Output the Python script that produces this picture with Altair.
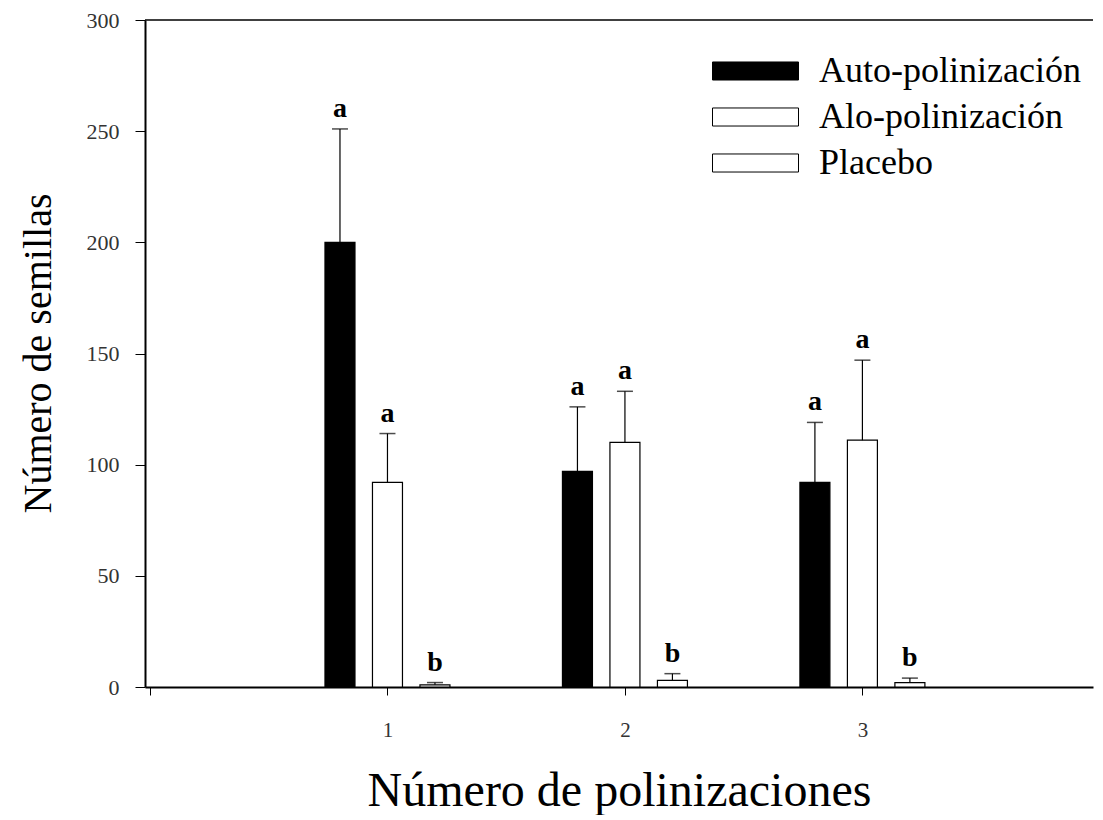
import altair as alt
import pandas as pd

# ---- data ----
groups = [1, 2, 3]
treatments = ["Auto-polinización", "Alo-polinización", "Placebo"]
auto_mean = [200, 97, 92]
auto_err = [51, 29, 27]
alo_mean = [92, 110, 111]
alo_err = [22, 23, 36]
placebo_mean = [1, 3, 2]
placebo_err = [1, 3, 2]
auto_letters = ["a", "a", "a"]
alo_letters = ["a", "a", "a"]
placebo_letters = ["b", "b", "b"]
x_tick_values = [0, 1, 2, 3]
y_tick_values = [0, 50, 100, 150, 200, 250, 300]

# ---- styling / layout constants ----
bar_colors = ["#000000", "#ffffff", "#ffffff"]
group_offsets = [-0.2, 0.0, 0.2]
SERIF = "Liberation Serif"

rows = []
for t, means, errs, letters, off in zip(
    treatments,
    [auto_mean, alo_mean, placebo_mean],
    [auto_err, alo_err, placebo_err],
    [auto_letters, alo_letters, placebo_letters],
    group_offsets,
):
    for g, m, e, l in zip(groups, means, errs, letters):
        rows.append({"grupo": g, "pos": g + off, "tratamiento": t,
                     "media": m, "sup": m + e, "letra": l})
df = pd.DataFrame(rows)

xscale = alt.Scale(domain=[0, 3.95], nice=False, zero=False)
yscale = alt.Scale(domain=[0, 300], nice=False)

xaxis = alt.Axis(values=x_tick_values, format="d",
                 labelExpr="datum.value == 0 ? '' : datum.label",
                 tickSize=8, tickColor="black", tickWidth=1,
                 labelPadding=24, labelFont=SERIF, labelFontSize=21,
                 labelColor="#333333", domainColor="black", domainWidth=2,
                 grid=False, titleFont=SERIF, titleFontSize=48,
                 titleFontWeight="normal", titleColor="black",
                 titleY=104, titleBaseline="middle")
yaxis = alt.Axis(values=y_tick_values, tickSize=10, tickColor="black",
                 tickWidth=1, labelPadding=16, labelFont=SERIF,
                 labelFontSize=22, labelColor="#333333",
                 domainColor="black", domainWidth=2, grid=False,
                 titleFont=SERIF, titleFontSize=40, titleFontWeight="normal",
                 titleColor="black", titleX=-107, titleY=333,
                 titleBaseline="middle")

legend = alt.Legend(orient="none", legendX=567, legendY=33, title=None,
                    symbolType="M-1,-0.21L1,-0.21L1,0.21L-1,0.21Z",
                    symbolSize=7396, symbolStrokeColor="black",
                    symbolStrokeWidth=1, labelFont=SERIF, labelFontSize=36,
                    labelColor="black", labelOffset=20, labelLimit=0,
                    clipHeight=36, rowPadding=10)

base = alt.Chart(df)

bars = base.mark_bar(size=30, stroke="black", strokeWidth=1.2).encode(
    x=alt.X("pos:Q", scale=xscale, axis=xaxis, title="Número de polinizaciones"),
    y=alt.Y("media:Q", scale=yscale, axis=yaxis, title="Número de semillas"),
    fill=alt.Fill("tratamiento:N",
                  scale=alt.Scale(domain=treatments, range=bar_colors),
                  legend=legend),
)

err = base.mark_rule(color="black", strokeWidth=1.2).encode(
    x="pos:Q", y="media:Q", y2="sup:Q")

caps = base.mark_tick(orient="horizontal", size=16, thickness=1.5,
                      color="black").encode(x="pos:Q", y="sup:Q")

letters = base.mark_text(font=SERIF, fontSize=28, fontWeight="bold",
                         baseline="bottom", dy=-6, color="black").encode(
    x="pos:Q", y="sup:Q", text="letra:N")

top_line = alt.Chart(pd.DataFrame({"y": [300]})).mark_rule(
    color="black", strokeWidth=1.5).encode(y="y:Q")

chart = alt.layer(bars, err, caps, letters, top_line).properties(
    width=948, height=667,
    padding={"left": 137, "top": 12, "right": 2, "bottom": 128},
    autosize=alt.AutoSizeParams(type="none"),
).configure_view(stroke=None)

chart.save("out.html", embed_options={"renderer": "svg", "actions": False})
